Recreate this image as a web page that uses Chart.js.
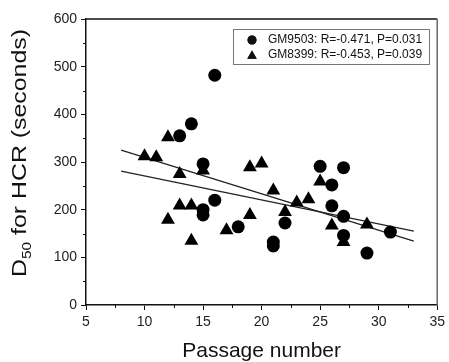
<!DOCTYPE html>
<html lang="en">
<head>
  <meta charset="UTF-8">
  <title>D50 for HCR vs passage number</title>
  <script src="https://cdn.jsdelivr.net/npm/chart.js"></script>
  <style>
    body { margin: 0; background: #fff; }
    canvas { display: block; }
  </style>
</head>
<body>
  <canvas id="myChart" width="449" height="362"></canvas>

  <script>
    // GM9503 (circles)
    var gm9503Passage = [13, 14, 15, 15, 15, 16, 16, 18, 21, 21, 22, 25, 26, 26, 27, 27, 27, 29, 31];
    var gm9503D50 = [355, 380, 296, 200, 189, 482, 220, 164, 132, 124, 172, 291, 252, 208, 288, 186, 146, 109, 153];

    // GM8399 (triangles)
    var gm8399Passage = [10, 11, 12, 12, 13, 13, 14, 14, 15, 17, 19, 19, 20, 21, 22, 23, 24, 25, 26, 27, 29];
    var gm8399D50 = [312, 310, 352, 179, 275, 209, 209, 135, 282, 157, 189, 289, 297, 240, 195, 215, 222, 259, 167, 132, 169];

    // fitted lines at both ends
    var fitX = [8, 33];
    var fitA = [325, 134];
    var fitB = [281, 155];

    var legendLabels = ['GM9503: R=-0.471, P=0.031', 'GM8399: R=-0.453, P=0.039'];
    var xTitle = 'Passage number';

    var FONT = '"Liberation Sans", Arial, sans-serif';

    function toPoints(xs, ys) {
      return xs.map(function (x, i) { return { x: x, y: ys[i] }; });
    }

    // box, minor ticks, axis titles and legend
    var decorations = {
      id: 'decorations',
      afterDraw: function (chart) {
        var ctx = chart.ctx;
        var a = chart.chartArea;
        var xs = chart.scales.x, ys = chart.scales.y;
        ctx.save();

        // top and right border
        ctx.lineWidth = 1.5;
        ctx.strokeStyle = '#111';
        ctx.beginPath();
        ctx.moveTo(a.left, a.top);
        ctx.lineTo(a.right, a.top);
        ctx.stroke();
        ctx.strokeStyle = '#666';
        ctx.beginPath();
        ctx.moveTo(a.right, a.top);
        ctx.lineTo(a.right, a.bottom);
        ctx.stroke();

        // minor ticks
        ctx.strokeStyle = '#111';
        ctx.lineWidth = 1;
        for (var v = 50; v < 600; v += 100) {
          var py = Math.round(ys.getPixelForValue(v)) + 0.5;
          ctx.beginPath();
          ctx.moveTo(a.left - 3, py);
          ctx.lineTo(a.left, py);
          ctx.stroke();
        }
        for (var u = 7.5; u < 35; u += 5) {
          var px = Math.round(xs.getPixelForValue(u)) + 0.5;
          ctx.beginPath();
          ctx.moveTo(px, a.bottom);
          ctx.lineTo(px, a.bottom + 3);
          ctx.stroke();
        }

        // x title
        ctx.fillStyle = '#111';
        ctx.font = '21px ' + FONT;
        ctx.textAlign = 'center';
        ctx.textBaseline = 'alphabetic';
        ctx.fillText(xTitle, (a.left + a.right) / 2, 357);

        // y title with subscript, stretched a little along its length
        var big = '21px ' + FONT, small = '13px ' + FONT;
        var parts = [['D', big, 0], ['50', small, 5], [' for HCR (seconds)', big, 0]];
        var total = 0;
        parts.forEach(function (p) { ctx.font = p[1]; total += ctx.measureText(p[0]).width; });
        var stretch = 248 / total;
        ctx.translate(26, 153);
        ctx.rotate(-Math.PI / 2);
        ctx.scale(stretch, 1);
        ctx.textAlign = 'left';
        var cx = -total / 2;
        parts.forEach(function (p) {
          ctx.font = p[1];
          ctx.fillText(p[0], cx, p[2]);
          cx += ctx.measureText(p[0]).width;
        });
        ctx.setTransform(1, 0, 0, 1, 0, 0);

        // legend box
        ctx.strokeStyle = '#777';
        ctx.lineWidth = 1;
        ctx.strokeRect(233.5, 29.5, 196, 35);
        var styles = ['circle', 'triangle'];
        var radii = [4.5, 5.5];
        ctx.font = '12px ' + FONT;
        ctx.textBaseline = 'middle';
        ctx.fillStyle = '#111';
        legendLabels.forEach(function (lbl, i) {
          var ly = 40 + i * 15;
          Chart.helpers.drawPoint(ctx, { pointStyle: styles[i], radius: radii[i], borderWidth: 0 }, 252, ly + (i ? 1 : 0));
          ctx.fillStyle = '#111';
          ctx.fill();
          ctx.fillText(lbl, 268, ly);
        });
        ctx.restore();
      }
    };

    var ctx = document.getElementById('myChart').getContext('2d');

    var myChart = new Chart(ctx, {
      type: 'scatter',
      data: {
        datasets: [{
          label: legendLabels[0],
          data: toPoints(gm9503Passage, gm9503D50),
          pointStyle: 'circle',
          pointRadius: 6.5,
          backgroundColor: '#000',
          borderWidth: 0
        }, {
          label: legendLabels[1],
          data: toPoints(gm8399Passage, gm8399D50),
          pointStyle: 'triangle',
          pointRadius: 8,
          backgroundColor: '#000',
          borderWidth: 0
        }, {
          type: 'line',
          data: toPoints(fitX, fitA),
          borderColor: '#222',
          borderWidth: 1.3,
          pointRadius: 0,
          fill: false
        }, {
          type: 'line',
          data: toPoints(fitX, fitB),
          borderColor: '#222',
          borderWidth: 1.3,
          pointRadius: 0,
          fill: false
        }]
      },
      options: {
        responsive: false,
        animation: false,
        devicePixelRatio: 1,
        layout: { padding: { top: 19, right: 9, left: 0, bottom: 0 } },
        plugins: {
          legend: { display: false },
          tooltip: { enabled: false }
        },
        scales: {
          x: {
            type: 'linear',
            min: 5,
            max: 35,
            afterFit: function (scale) { scale.height = 57; },
            ticks: { stepSize: 5, color: '#222', padding: 4, font: { family: FONT, size: 14 } },
            grid: { drawOnChartArea: false, tickLength: 5, color: '#111', tickWidth: 1 },
            border: { color: '#111', width: 1.5 }
          },
          y: {
            min: 0,
            max: 600,
            afterFit: function (scale) { scale.width = 86; },
            ticks: { stepSize: 100, color: '#222', padding: 4, font: { family: FONT, size: 14 } },
            grid: { drawOnChartArea: false, tickLength: 5, color: '#111', tickWidth: 1 },
            border: { color: '#111', width: 1.5 }
          }
        }
      },
      plugins: [decorations]
    });
  </script>
</body>
</html>
